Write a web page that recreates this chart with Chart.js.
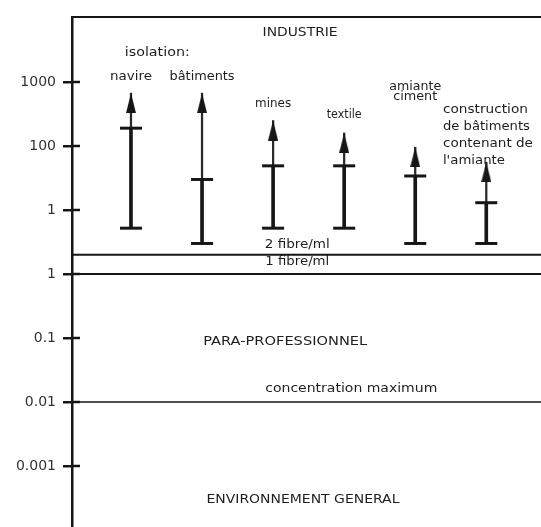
<!DOCTYPE html>
<html><head><meta charset="utf-8">
<script src="https://cdn.jsdelivr.net/npm/chart.js@4.4.1/dist/chart.umd.min.js"></script>
<style>html,body{margin:0;padding:0;background:#fff;} #wrap{width:541px;height:527px;position:relative;}</style>
</head><body><div id="wrap"><canvas id="c" width="541" height="527"></canvas></div>
<script>
// ---- data ----
const categories = ["navire", "bâtiments", "mines", "textile", "amiante\nciment", "construction\nde bâtiments\ncontenant de\nl'amiante"];
const groupLabel = "isolation:";
const lowValues = [5.2, 3.0, 5.2, 5.2, 3.0, 3.0];
const typicalValues = [190, 30, 49, 49, 34, 13];
const highValues = [670, 670, 250, 160, 96, 56];
const tickValues = [0.001, 0.01, 0.1, 1, 10, 100, 1000];
const tickLabels = ["0.001", "0.01", "0.1", "1", "1", "100", "1000"];
const refLineValues = [2, 1, 0.01];
const refLineLabels = ["2 fibre/ml", "1 fibre/ml", "concentration maximum"];
const zoneLabels = ["INDUSTRIE", "PARA-PROFESSIONNEL", "ENVIRONNEMENT GENERAL"];

// ---- layout (positions / sizes, in data units where possible) ----
const LAYOUT = {
  yMin: 0.0001114, yMax: 10370, xMin: -0.83, xMax: 5.77,
  catLabels: [
    {x: 0, y: 1200, w: [42]},
    {x: 1, y: 1200, w: [65]},
    {x: 2, y: 450, w: [36]},
    {x: 3, y: 305, w: [35]},
    {x: 4, y: 835, w: [52, 44], lh: 10},
    {x: 4.39, y: 365, w: [85, 87, 90, 62], lh: 17, align: 'left'}
  ],
  group: {x: 0.37, y: 2840, w: 65},
  zones: [{x: 2.38, y: 5830, w: 75}, {x: 2.17, y: 0.0866, w: 164}, {x: 2.42, y: 0.000294, w: 193}],
  refs: [{x: 2.34, dy: -10, w: 65, lw: 2.2}, {x: 2.34, dy: -12, w: 64, lw: 2}, {x: 3.1, dy: -13, w: 172, lw: 1.5}]
};

const INK = '#161616';

// arrow head image: tip at the image centre
const head = document.createElement('canvas');
head.width = 10; head.height = 40;
(function () {
  const hc = head.getContext('2d');
  hc.fillStyle = INK;
  hc.beginPath(); hc.moveTo(5, 20); hc.lineTo(10, 40); hc.lineTo(0, 40); hc.closePath(); hc.fill();
})();

function fitText(ctx, text, x, y, w, align) {
  ctx.save();
  ctx.font = '12px "DejaVu Sans"';
  const m = ctx.measureText(text).width;
  ctx.translate(x, y);
  ctx.scale(w / m, 1);
  ctx.textAlign = align || 'center';
  ctx.textBaseline = 'middle';
  ctx.fillStyle = '#1e1e1e';
  ctx.fillText(text, 0, 0);
  ctx.restore();
}

const decor = {
  id: 'decor',
  beforeDatasetsDraw(chart) {
    const {ctx, chartArea: a, scales: {y}} = chart;
    ctx.save();
    ctx.strokeStyle = INK;
    // top frame
    ctx.lineWidth = 2;
    ctx.beginPath(); ctx.moveTo(a.left, a.top); ctx.lineTo(a.right, a.top); ctx.stroke();
    // inner part of the axis ticks
    ctx.lineWidth = 2.5;
    tickValues.forEach(v => {
      const py = Math.round(y.getPixelForValue(v));
      ctx.beginPath(); ctx.moveTo(a.left, py); ctx.lineTo(a.left + 8, py); ctx.stroke();
    });
    // reference lines
    refLineValues.forEach((v, i) => {
      const py = y.getPixelForValue(v);
      ctx.lineWidth = LAYOUT.refs[i].lw;
      ctx.beginPath(); ctx.moveTo(a.left, py); ctx.lineTo(a.right, py); ctx.stroke();
    });
    ctx.restore();
  },
  afterDraw(chart) {
    const {ctx, scales: {x, y}} = chart;
    zoneLabels.forEach((t, i) => {
      const L = LAYOUT.zones[i];
      fitText(ctx, t, x.getPixelForValue(L.x), y.getPixelForValue(L.y), L.w);
    });
    fitText(ctx, groupLabel, x.getPixelForValue(LAYOUT.group.x), y.getPixelForValue(LAYOUT.group.y), LAYOUT.group.w);
    categories.forEach((c, i) => {
      const L = LAYOUT.catLabels[i];
      const lines = c.split('\n');
      const px = x.getPixelForValue(L.x);
      const py = y.getPixelForValue(L.y);
      lines.forEach((ln, k) => fitText(ctx, ln, px, py + k * (L.lh || 0), L.w[k], L.align));
    });
    refLineLabels.forEach((t, i) => {
      const L = LAYOUT.refs[i];
      fitText(ctx, t, x.getPixelForValue(L.x), y.getPixelForValue(refLineValues[i]) + L.dy, L.w);
    });
  }
};

new Chart(document.getElementById('c'), {
  type: 'bar',
  data: {
    datasets: [
      {type: 'scatter', label: 'max', data: highValues.map((v, i) => ({x: i, y: v})),
       pointStyle: head, pointRadius: 5, order: 0},
      {type: 'scatter', label: 'caps',
       data: typicalValues.map((v, i) => ({x: i, y: v})).concat(lowValues.map((v, i) => ({x: i, y: v}))),
       pointStyle: 'line', pointRadius: 11, pointBorderWidth: 3, pointBorderColor: INK, order: 1},
      {type: 'bar', label: 'upper', data: typicalValues.map((v, i) => ({x: i, y: [v, highValues[i]]})),
       backgroundColor: '#2a2a2a', barThickness: 1.6, grouped: false, order: 3},
      {type: 'bar', label: 'lower', data: lowValues.map((v, i) => ({x: i, y: [v, typicalValues[i]]})),
       backgroundColor: INK, barThickness: 3, grouped: false, order: 2}
    ]
  },
  options: {
    responsive: false,
    devicePixelRatio: 1,
    animation: false,
    layout: {autoPadding: false, padding: {top: 17, left: 0, right: 0, bottom: 0}},
    plugins: {legend: {display: false}, tooltip: {enabled: false}},
    scales: {
      x: {type: 'linear', min: LAYOUT.xMin, max: LAYOUT.xMax, offset: false, display: false},
      y: {
        type: 'logarithmic', min: LAYOUT.yMin, max: LAYOUT.yMax, bounds: 'data', beginAtZero: false,
        afterBuildTicks: s => { s.ticks = tickValues.map(v => ({value: v})); },
        afterFit: s => { s.width = 72; s.paddingTop = 0; s.paddingBottom = 0; },
        ticks: {
          autoSkip: false,
          callback: v => { const k = tickValues.indexOf(v); return k >= 0 ? tickLabels[k] : ''; },
          font: {family: 'DejaVu Sans', size: 14}, color: '#333', padding: 7
        },
        grid: {drawOnChartArea: false, drawTicks: true, tickLength: 9, color: INK, lineWidth: 2.5},
        border: {display: true, color: INK, width: 2.5}
      }
    }
  },
  plugins: [decor]
});
</script>
</body></html>
